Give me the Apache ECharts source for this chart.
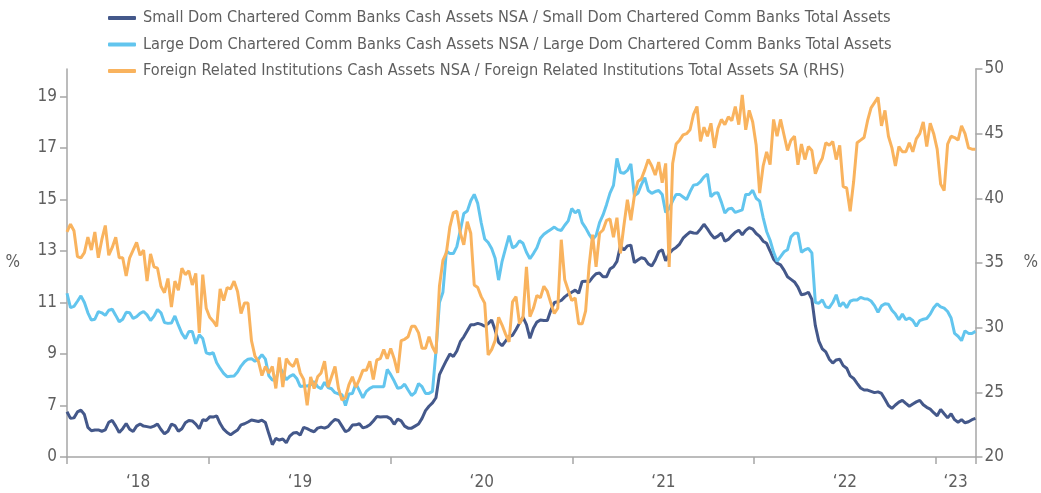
<!DOCTYPE html>
<html lang="en">
<head>
    <meta charset="UTF-8">
    <title>Cash assets share of total assets</title>
    <script src="https://cdn.jsdelivr.net/npm/echarts@6.0.0/dist/echarts.min.js"></script>
    <style>
        html, body { margin: 0; padding: 0; background: #fff; }
        #main { width: 1041px; height: 493px; }
    </style>
</head>
<body>
    <div id="main"></div>

    <script>
        // weekly observations, first week 2018-03-21, last 2023-03-22
        var firstWeek = '2018-03-21';
        var lastWeek = '2023-03-22';

        var seriesNames = [
            'Small Dom Chartered Comm Banks Cash Assets NSA / Small Dom Chartered Comm Banks Total Assets',
            'Large Dom Chartered Comm Banks Cash Assets NSA / Large Dom Chartered Comm Banks Total Assets',
            'Foreign Related Institutions Cash Assets NSA / Foreign Related Institutions Total Assets SA (RHS)'
        ];

        // % (left axis)
        var smallDom = [
            6.76, 6.5, 6.52, 6.75, 6.82, 6.65, 6.15, 6.02, 6.05, 6.05,
            6.0, 6.05, 6.35, 6.42, 6.2, 5.95, 6.1, 6.3, 6.08, 5.99,
            6.2, 6.28, 6.2, 6.18, 6.15, 6.2, 6.28, 6.07, 5.9, 6.0,
            6.28, 6.22, 6.0, 6.1, 6.33, 6.42, 6.4, 6.28, 6.1, 6.45,
            6.42, 6.56, 6.55, 6.6, 6.3, 6.08, 5.95, 5.86, 5.96, 6.05,
            6.25, 6.29, 6.36, 6.44, 6.41, 6.38, 6.43, 6.34, 5.9, 5.48,
            5.72, 5.66, 5.7, 5.55, 5.81, 5.93, 5.95, 5.85, 6.15, 6.1,
            6.03, 5.98, 6.12, 6.16, 6.12, 6.18, 6.34, 6.46, 6.42, 6.2,
            5.98, 6.05, 6.24, 6.25, 6.29, 6.13, 6.17, 6.25, 6.4, 6.57,
            6.55, 6.56, 6.56, 6.48, 6.27, 6.47, 6.4, 6.2, 6.12, 6.12,
            6.2, 6.28, 6.5, 6.8, 6.97, 7.1, 7.3, 8.2, 8.48, 8.75,
            9.0, 8.9, 9.12, 9.48, 9.67, 9.9, 10.14, 10.14, 10.19, 10.15,
            10.08, 10.18, 10.32, 9.93, 9.45, 9.32, 9.5, 9.68, 9.73, 9.95,
            10.2, 10.43, 10.14, 9.61, 10.0, 10.24, 10.32, 10.3, 10.3, 10.7,
            11.0, 11.03, 11.08, 11.22, 11.32, 11.4, 11.48, 11.36, 11.82, 11.83,
            11.8, 11.98, 12.12, 12.15, 12.0, 12.0, 12.3, 12.39, 12.6, 13.2,
            13.04, 13.2, 13.23, 12.55, 12.65, 12.74, 12.7, 12.5, 12.42, 12.65,
            12.97, 13.05, 12.62, 12.9, 13.05, 13.14, 13.27, 13.5, 13.63, 13.74,
            13.7, 13.69, 13.85, 14.04, 13.86, 13.65, 13.5, 13.58, 13.7, 13.38,
            13.45, 13.6, 13.73, 13.81, 13.63, 13.8, 13.91, 13.85, 13.68, 13.57,
            13.38, 13.3, 13.0, 12.68, 12.53, 12.46, 12.26, 12.0, 11.9, 11.8,
            11.6, 11.3, 11.33, 11.4, 11.12, 10.1, 9.5, 9.2, 9.08, 8.8,
            8.65, 8.77, 8.8, 8.55, 8.45, 8.15, 8.05, 7.86, 7.68, 7.6,
            7.6, 7.55, 7.5, 7.53, 7.47, 7.24, 7.0, 6.89, 7.02, 7.13,
            7.2, 7.08, 6.97, 7.06, 7.14, 7.2, 7.03, 6.93, 6.86, 6.72,
            6.6, 6.85, 6.68, 6.52, 6.68, 6.45, 6.35, 6.45, 6.33, 6.37,
            6.45, 6.5
        ];

        // % (left axis)
        var largeDom = [
            11.36, 10.8, 10.85, 11.05, 11.26, 11.0, 10.6, 10.32, 10.35, 10.65,
            10.6, 10.5, 10.7, 10.74, 10.5, 10.25, 10.35, 10.62, 10.6, 10.38,
            10.45, 10.58, 10.65, 10.52, 10.3, 10.47, 10.73, 10.6, 10.22, 10.19,
            10.2, 10.48, 10.12, 9.8, 9.6, 9.87, 9.87, 9.4, 9.75, 9.6,
            9.05, 9.0, 9.05, 8.66, 8.44, 8.25, 8.12, 8.14, 8.15, 8.3,
            8.53, 8.7, 8.8, 8.82, 8.72, 8.8, 8.98, 8.8, 8.15, 7.99,
            7.99, 8.5, 8.3, 8.0, 8.13, 8.2, 8.05, 7.74, 7.76, 7.76,
            7.8, 7.93, 7.73, 7.65, 7.9, 7.7, 7.65, 7.5, 7.45, 7.42,
            7.0, 7.45, 7.47, 7.85, 7.58, 7.3, 7.55, 7.67, 7.73, 7.73,
            7.73, 7.73, 8.4, 8.2, 7.95, 7.67, 7.7, 7.83, 7.6, 7.39,
            7.5, 7.85, 7.73, 7.47, 7.47, 7.55, 9.1, 11.0, 11.4, 13.0,
            12.9, 12.9, 13.17, 13.8, 14.46, 14.55, 14.95, 15.2, 14.85, 14.1,
            13.47, 13.33, 13.1, 12.72, 11.87, 12.6, 13.1, 13.6, 13.12, 13.2,
            13.4, 13.3, 12.95, 12.7, 12.9, 13.13, 13.5, 13.65, 13.75, 13.84,
            13.93, 13.83, 13.8, 14.0, 14.17, 14.65, 14.48, 14.6, 14.1, 13.9,
            13.65, 13.45, 13.6, 14.1, 14.4, 14.8, 15.25, 15.55, 16.6, 16.05,
            16.02, 16.13, 16.38, 15.15, 15.24, 15.57, 15.85, 15.35, 15.24, 15.31,
            15.35, 15.2, 14.5, 14.65, 14.95, 15.2, 15.2, 15.1, 15.0, 15.3,
            15.56, 15.58, 15.7, 15.88, 15.99, 15.11, 15.24, 15.26, 14.9, 14.48,
            14.63, 14.66, 14.5, 14.55, 14.6, 15.2, 15.2, 15.36, 15.05, 14.94,
            14.3, 13.76, 13.42, 12.96, 12.6, 12.78, 12.97, 13.05, 13.55, 13.69,
            13.69, 12.95, 13.05, 13.1, 12.93, 11.0, 10.97, 11.1, 10.83, 10.8,
            11.0, 11.3, 10.85, 11.0, 10.8, 11.05, 11.1, 11.1, 11.2, 11.15,
            11.14, 11.06, 10.88, 10.62, 10.87, 10.95, 10.93, 10.7, 10.55, 10.33,
            10.55, 10.33, 10.4, 10.3, 10.08, 10.3, 10.35, 10.38, 10.55, 10.8,
            10.95, 10.83, 10.78, 10.65, 10.4, 9.8, 9.69, 9.52, 9.9, 9.8,
            9.8, 9.88
        ];

        // % (right axis)
        var foreignRel = [
            37.4, 38.0, 37.5, 35.5, 35.4, 35.8, 37.0, 36.0, 37.4, 35.4,
            36.8, 37.9, 35.6, 36.2, 37.0, 35.4, 35.4, 34.0, 35.4, 36.0,
            36.6, 35.6, 36.0, 33.6, 35.7, 34.7, 34.6, 33.2, 32.7, 33.8,
            31.6, 33.6, 32.9, 34.6, 34.1, 34.4, 33.3, 34.2, 29.6, 34.1,
            31.5, 30.8, 30.5, 30.1, 33.0, 32.1, 33.1, 33.0, 33.6, 32.8,
            31.1, 31.9, 31.9, 29.0, 27.8, 27.4, 26.3, 27.0, 26.5, 27.0,
            25.3, 27.7, 25.4, 27.6, 27.2, 27.0, 27.6, 26.5, 26.0, 24.0,
            26.2, 25.3, 26.2, 26.5, 27.4, 25.4, 26.2, 27.0, 25.3, 24.4,
            24.6, 25.6, 26.2, 25.4, 26.0, 26.7, 26.7, 27.4, 26.0, 27.5,
            27.6, 28.3, 27.6, 28.4, 27.6, 26.5, 29.0, 29.1, 29.3, 30.1,
            30.1, 29.6, 28.4, 28.4, 29.3, 28.5, 28.0, 33.2, 35.2, 35.8,
            37.8, 38.9, 39.0, 37.3, 36.4, 38.2, 37.3, 33.3, 33.1, 32.4,
            31.9, 27.9, 28.3, 29.0, 30.8, 30.2, 29.5, 28.9, 32.0, 32.4,
            30.3, 30.8, 34.7, 30.85, 31.5, 32.5, 32.3, 33.2, 32.8, 31.9,
            31.1, 31.5, 36.8, 33.7, 32.9, 32.1, 32.3, 30.3, 30.3, 31.3,
            34.8, 37.2, 34.7, 37.3, 37.55, 38.3, 38.4, 37.0, 38.5, 35.75,
            37.9, 39.9, 38.3, 40.2, 41.3, 41.5, 42.2, 43.0, 42.5, 41.8,
            42.8, 41.2, 42.7, 34.7, 42.7, 44.2, 44.5, 44.9, 45.0, 45.3,
            46.5, 47.1, 44.4, 45.5, 44.8, 45.8, 43.9, 45.4, 46.1, 45.7,
            46.3, 46.0, 47.1, 45.7, 48.0, 45.3, 46.8, 45.9, 44.1, 40.4,
            42.5, 43.6, 42.6, 46.1, 44.8, 46.1, 44.9, 43.7, 44.5, 44.8,
            42.6, 44.2, 43.0, 44.0, 43.7, 41.9, 42.6, 43.1, 44.3, 44.1,
            44.4, 43.0, 44.1, 40.9, 40.8, 39.0, 41.3, 44.3, 44.5, 44.7,
            46.0, 47.0, 47.4, 47.8, 45.6, 46.8, 44.8, 43.9, 42.5, 44.0,
            43.6, 43.6, 44.3, 43.6, 44.6, 45.0, 45.9, 44.0, 45.8, 45.0,
            43.8, 41.1, 40.6, 44.2, 44.8, 44.7, 44.5, 45.6, 45.0, 43.9,
            43.8, 43.8
        ];

        // left axis is broken: the bottom tick (5) is printed as 0
        var leftTickValues = [5, 7, 9, 11, 13, 15, 17, 19];
        var leftTickLabels = ['0', '7', '9', '11', '13', '15', '17', '19'];
        var xLabelYears = [2018, 2019, 2020, 2021, 2022, 2023];
        var xLabels = ['\u201818', '\u201819', '\u201820', '\u201821', '\u201822', '\u201823'];

        var DAY = 86400000;
        var t0 = Date.parse(firstWeek);
        var t1 = Date.parse(lastWeek);
        var weeks = smallDom.map(function (_, i) { return t0 + i * 7 * DAY; });

        function pairs(values) {
            return values.map(function (v, i) { return [weeks[i], v]; });
        }

        // ticks on year boundaries, labels in the middle of each year's stretch
        var yearTicks = [t0];
        var labelTimes = [];
        xLabelYears.forEach(function (y) {
            var a = Math.max(t0, Date.UTC(y, 0, 1));
            var b = Math.min(t1, Date.UTC(y + 1, 0, 1));
            labelTimes.push((a + b) / 2);
            if (Date.UTC(y, 0, 1) > t0) yearTicks.push(Date.UTC(y, 0, 1));
        });
        yearTicks.push(t1);

        var font = "'Liberation Sans Narrow', 'DejaVu Sans Condensed', sans-serif";
        var textGrey = '#5f5f5f';
        var axisGrey = '#a6a6a6';

        var myChart = echarts.init(document.getElementById('main'));

        var option = {
            animation: false,
            color: ['#44588a', '#62c5ee', '#f9b35e'],
            legend: {
                orient: 'vertical',
                left: 103,
                top: 3,
                itemWidth: 28,
                itemHeight: 4,
                itemGap: 6.5,
                icon: 'roundRect',
                textStyle: { color: textGrey, fontSize: 16.2, fontFamily: font, lineHeight: 20, padding: [0, 0, 0, 2] },
                data: seriesNames
            },
            grid: { left: 67, right: 62, top: 69, bottom: 36 },
            xAxis: {
                // time on a value axis so ticks and labels can sit where the reference puts them
                type: 'value',
                min: t0,
                max: t1,
                axisLine: { lineStyle: { color: axisGrey, width: 1.5 } },
                axisTick: { show: true, length: 7, lineStyle: { color: axisGrey, width: 1.5 }, customValues: yearTicks },
                axisLabel: {
                    customValues: labelTimes,
                    color: textGrey,
                    fontSize: 17,
                    fontFamily: font,
                    margin: 17,
                    formatter: function (v) {
                        var best = 0;
                        labelTimes.forEach(function (t, i) {
                            if (Math.abs(t - v) < Math.abs(labelTimes[best] - v)) best = i;
                        });
                        return xLabels[best];
                    }
                },
                splitLine: { show: false }
            },
            yAxis: [
                {
                    type: 'value',
                    position: 'left',
                    min: 5,
                    max: 20.07,
                    name: '%',
                    nameLocation: 'middle',
                    nameGap: 47,
                    nameRotate: 0,
                    nameTextStyle: { color: textGrey, fontSize: 17, fontFamily: font },
                    axisLine: { show: true, lineStyle: { color: axisGrey, width: 1.5 } },
                    axisTick: { show: true, length: 7, lineStyle: { color: axisGrey, width: 1.5 }, customValues: leftTickValues },
                    axisLabel: {
                        customValues: leftTickValues,
                        color: textGrey,
                        fontSize: 17,
                        fontFamily: font,
                        margin: 10,
                        formatter: function (v) {
                            var i = leftTickValues.indexOf(v);
                            return i < 0 ? '' : leftTickLabels[i];
                        }
                    },
                    splitLine: { show: false }
                },
                {
                    type: 'value',
                    position: 'right',
                    min: 20,
                    max: 50,
                    interval: 5,
                    name: '%',
                    nameLocation: 'middle',
                    nameGap: 48,
                    nameRotate: 0,
                    nameTextStyle: { color: textGrey, fontSize: 17, fontFamily: font },
                    axisLine: { show: true, lineStyle: { color: axisGrey, width: 1.5 } },
                    axisTick: { show: true, length: 7, lineStyle: { color: axisGrey, width: 1.5 } },
                    axisLabel: { color: textGrey, fontSize: 17, fontFamily: font, margin: 9 },
                    splitLine: { show: false }
                }
            ],
            series: [
                {
                    name: seriesNames[0],
                    type: 'line',
                    yAxisIndex: 0,
                    data: pairs(smallDom),
                    showSymbol: false,
                    lineStyle: { width: 3 }
                },
                {
                    name: seriesNames[1],
                    type: 'line',
                    yAxisIndex: 0,
                    data: pairs(largeDom),
                    showSymbol: false,
                    lineStyle: { width: 3 }
                },
                {
                    name: seriesNames[2],
                    type: 'line',
                    yAxisIndex: 1,
                    data: pairs(foreignRel),
                    showSymbol: false,
                    lineStyle: { width: 3 }
                }
            ]
        };

        myChart.setOption(option);
    </script>
</body>
</html>
